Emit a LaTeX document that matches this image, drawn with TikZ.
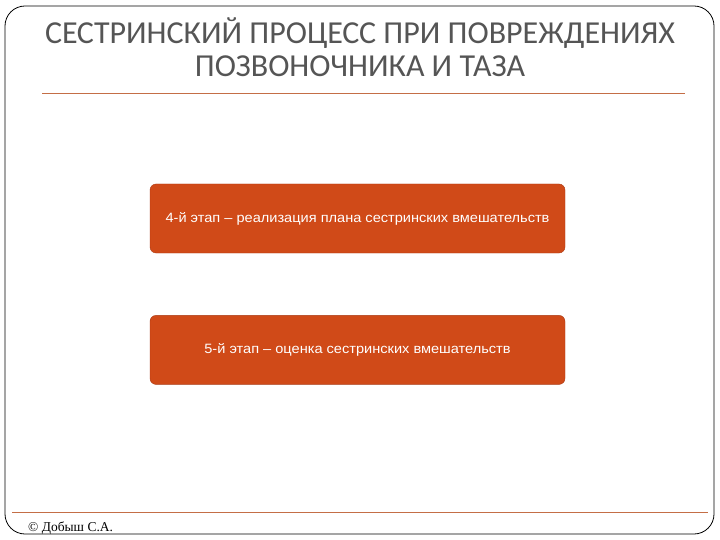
\documentclass[tikz,border=0pt]{standalone}
\usepackage{fontspec}
\setmainfont{Liberation Serif}
\newfontfamily\titlefont{Carlito}
\newfontfamily\boxfont[FakeStretch=1.08]{Liberation Sans}
\usetikzlibrary{positioning}
\definecolor{stageorange}{RGB}{208,74,24}
\definecolor{stageedge}{RGB}{170,58,20}
\definecolor{ruleorange}{RGB}{196,110,70}
\definecolor{titlegray}{RGB}{85,85,85}
\begin{document}
\begin{tikzpicture}[
                            x=1pt, y=-1pt,
                            node distance=62pt,
                            stagebox/.style={draw=stageedge, fill=stageorange, rounded corners=6pt,
                                minimum width=415pt, minimum height=69pt, text=white,
                                font=\boxfont\fontsize{13.5}{15}\selectfont}
                            ]

                            \useasboundingbox (0,0) rectangle (720,540);
                            \draw[rounded corners=20pt, line width=0.8pt] (5,6) rectangle (714,534);

                            \node [align=center, text=titlegray, font=\titlefont\fontsize{32}{33}\selectfont] (title) at (360,47)
                                {СЕСТРИНСКИЙ ПРОЦЕСС ПРИ ПОВРЕЖДЕНИЯХ\\ПОЗВОНОЧНИКА И ТАЗА};
                            \coordinate (ruleL) at (42,93);
                            \coordinate (ruleR) at (685,93);
                            \draw[ruleorange, line width=0.8pt] (ruleL) -- (ruleR);

                            \node [stagebox] (stage4) at (357.5,218.5) {4-й этап – реализация плана сестринских вмешательств};
                            \node [stagebox, below=of stage4] (stage5) {5-й этап – оценка сестринских вмешательств};

                            \coordinate (footL) at (12,512);
                            \coordinate (footR) at (708,512);
                            \draw[ruleorange, line width=0.8pt] (footL) -- (footR);
                            \node [anchor=base west, font=\fontsize{13.5}{15}\selectfont, inner sep=0pt] (author) at (28,531) {© Добыш С.А.};
                        \end{tikzpicture}
\end{document}
